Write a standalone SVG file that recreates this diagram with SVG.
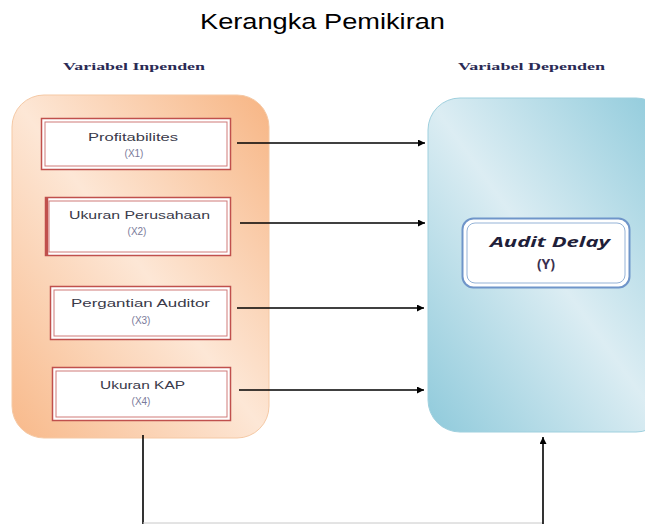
<svg xmlns="http://www.w3.org/2000/svg" width="645" height="524" viewBox="0 0 645 524">
<defs>
<linearGradient id="gOr" x1="0" y1="1" x2="1" y2="0">
<stop offset="0" stop-color="#f8b98a"/>
<stop offset="0.5" stop-color="#fde7d6"/>
<stop offset="1" stop-color="#f7b584"/>
</linearGradient>
<linearGradient id="gBl" x1="0" y1="1" x2="1" y2="0">
<stop offset="0" stop-color="#8fcadb"/>
<stop offset="0.5" stop-color="#dcedf3"/>
<stop offset="1" stop-color="#8ecadb"/>
</linearGradient>
<marker id="ah" viewBox="0 0 10 10" refX="10" refY="5" markerWidth="9" markerHeight="7" markerUnits="userSpaceOnUse" orient="auto">
<path d="M0,0 L10,5 L0,10 z" fill="#000"/>
</marker>
</defs>
<style>
.title{font-family:"Liberation Sans",Arial,sans-serif;font-size:22px;fill:#000}
.hdr{font-family:"Liberation Serif","Times New Roman",serif;font-size:11px;font-weight:bold;fill:#2a2a55}
.lbl{font-family:"Liberation Sans",Arial,sans-serif;font-size:10px;fill:#3a3a4a}
.sub{font-family:"Liberation Sans",Arial,sans-serif;font-size:10px;fill:#7a7a9a}
.box{fill:#fff;stroke:#c0504d;stroke-width:1.5}
.boxin{fill:none;stroke:#d07a78;stroke-width:1}
.conn{stroke:#000;stroke-width:1.6;fill:none}
</style>
<text class="title" x="200" y="29" textLength="245" lengthAdjust="spacingAndGlyphs">Kerangka Pemikiran</text>
<text class="hdr" x="63" y="70" textLength="142" lengthAdjust="spacingAndGlyphs">Variabel Inpenden</text>
<text class="hdr" x="458" y="70" textLength="147" lengthAdjust="spacingAndGlyphs">Variabel Dependen</text>

<g id="independen">
<rect x="12" y="95" width="257" height="343" rx="32" fill="url(#gOr)" stroke="#f5c9a5" stroke-width="1"/>
</g>
<g id="dependen">
<rect x="428" y="98" width="240" height="334" rx="32" fill="url(#gBl)" stroke="#9fd0de" stroke-width="1"/>
</g>

<g id="x1">
<rect class="box" x="41.5" y="118.5" width="189" height="51"/>
<rect class="boxin" x="45" y="122" width="182" height="44"/>
<text class="lbl" x="88" y="141" textLength="90" lengthAdjust="spacingAndGlyphs">Profitabilites</text>
<text class="sub" x="134" y="157" text-anchor="middle">(X1)</text>
</g>
<g id="x2">
<rect class="box" x="45.5" y="197.5" width="185" height="58"/>
<rect class="boxin" x="49" y="201" width="178" height="51"/>
<line x1="47" y1="198" x2="47" y2="255" stroke="#c0504d" stroke-width="2.5"/>
<text class="lbl" x="69" y="219" textLength="141" lengthAdjust="spacingAndGlyphs">Ukuran Perusahaan</text>
<text class="sub" x="137" y="235" text-anchor="middle">(X2)</text>
</g>
<g id="x3">
<rect class="box" x="50.5" y="286.5" width="180" height="53"/>
<rect class="boxin" x="54" y="290" width="173" height="46"/>
<text class="lbl" x="71" y="307" textLength="139" lengthAdjust="spacingAndGlyphs">Pergantian Auditor</text>
<text class="sub" x="141" y="324" text-anchor="middle">(X3)</text>
</g>
<g id="x4">
<rect class="box" x="52.5" y="367.5" width="178" height="53"/>
<rect class="boxin" x="56" y="371" width="171" height="46"/>
<text class="lbl" x="100" y="389" textLength="85" lengthAdjust="spacingAndGlyphs">Ukuran KAP</text>
<text class="sub" x="141" y="405" text-anchor="middle">(X4)</text>
</g>

<g id="y">
<rect x="462.5" y="218.5" width="167" height="69" rx="11" fill="#fff" stroke="#6f95c9" stroke-width="2"/>
<rect x="467" y="223" width="158" height="60" rx="8" fill="#fff" stroke="#95b3d7" stroke-width="1"/>
<text x="490" y="247" font-family="'Open Sans','Liberation Sans',Arial,sans-serif" font-size="15" font-style="italic" font-weight="bold" fill="#1f1f3a" textLength="120" lengthAdjust="spacingAndGlyphs">Audit Delay</text>
<text x="546" y="269" font-family="'Open Sans','Liberation Sans',Arial,sans-serif" font-size="14" font-weight="bold" fill="#3a3050" text-anchor="middle">(Y)</text>
</g>

<g id="connectors">
<line class="conn" x1="237" y1="143" x2="425" y2="143" marker-end="url(#ah)"/>
<line class="conn" x1="240" y1="223" x2="425" y2="223" marker-end="url(#ah)"/>
<line class="conn" x1="237" y1="308" x2="424" y2="308" marker-end="url(#ah)"/>
<line class="conn" x1="239" y1="390" x2="424" y2="390" marker-end="url(#ah)"/>
<line class="conn" x1="143" y1="435" x2="143" y2="524"/>
<line x1="143" y1="523" x2="543" y2="523" stroke="#c8c8c8" stroke-width="1"/>
<line class="conn" x1="543" y1="524" x2="543" y2="437" marker-end="url(#ah)"/>
</g>
</svg>
